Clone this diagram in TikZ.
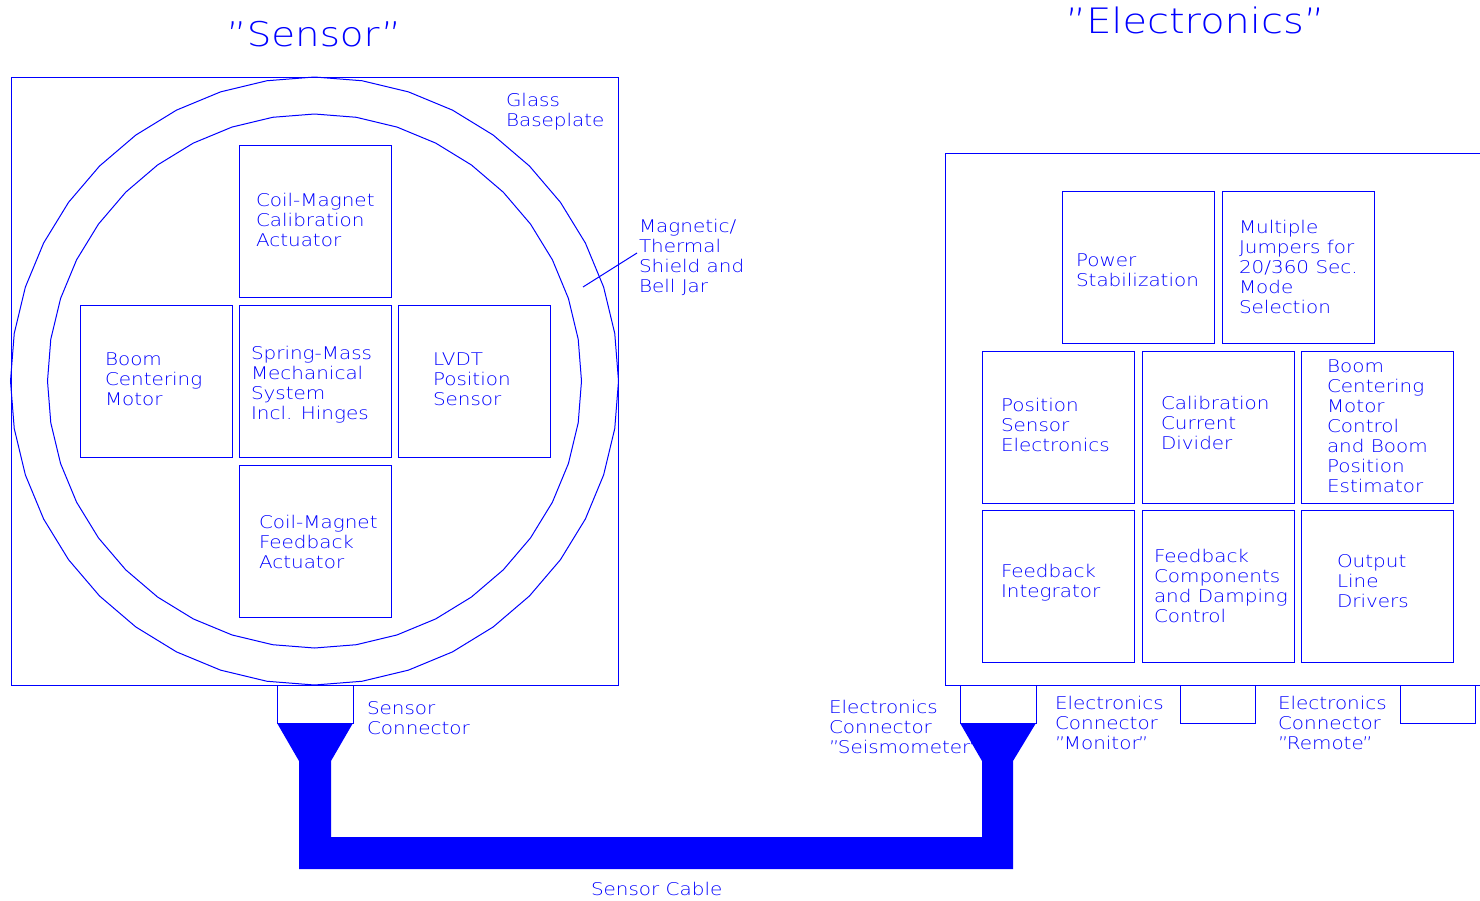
\documentclass[tikz,border=0pt]{standalone}
\usepackage{fontspec}
\IfFontExistsTF{DejaVu Sans ExtraLight}
  {\newfontfamily\cadfont[FakeStretch=1.14]{DejaVu Sans ExtraLight}}
  {\newfontfamily\cadfont[FakeStretch=1.14]{DejaVu Sans}}
\newcommand\cadlbl[4]{\node[lbl] (#1) at (#2,#3-14) {\strut #4};}
\begin{document}
\begin{tikzpicture}[x=1pt,y=-1pt,
  ln/.style={draw=blue, line width=1pt},
  frame/.style={ln, rectangle, inner sep=0pt, outer sep=0pt, anchor=north west},
  blk/.style={frame, minimum width=152pt, minimum height=152pt},
  conn/.style={frame, minimum width=76pt, minimum height=38pt},
  lbl/.style={anchor=north west, inner sep=0pt, outer sep=0pt, align=left, text=blue,
              font=\cadfont\fontsize{17.5}{20}\selectfont},
  title/.style={anchor=base, inner sep=0pt, text=blue}]
\fill[white] (0,0) rectangle (1480,900);
\useasboundingbox (0,0) rectangle (1480,900);

% titles
\node[title, font=\cadfont\fontsize{34}{40}\selectfont] (tsensor) at (314,46) {”Sensor”};
\node[title, font=\cadfont\fontsize{35}{40}\selectfont] (telec) at (1195,33) {”Electronics”};

% sensor frame and rings
\node[frame, minimum width=607pt, minimum height=608pt] (sbox) at (11,77) {};
\draw[ln] plot[samples=41, domain=0:360] ({314.5+304*cos(\x)},{381+304*sin(\x)}) -- cycle;
\draw[ln] plot[samples=41, domain=0:360] ({314.5+267*cos(\x)},{381+267*sin(\x)}) -- cycle;

% sensor blocks
\node[blk] (scal) at (239,145) {};
\node[blk] (sboom) at (80,305) {};
\node[blk] (sspring) at (239,305) {};
\node[blk] (slvdt) at (398,305) {};
\node[blk] (sfb) at (239,465) {};

\cadlbl{tcal}{256}{206}{Coil-Magnet\\Calibration\\Actuator}
\cadlbl{tboom}{105}{365}{Boom\\Centering\\Motor}
\cadlbl{tspring}{251}{359}{Spring-Mass\\Mechanical\\System\\Incl. Hinges}
\cadlbl{tlvdt}{433}{365}{LVDT\\Position\\Sensor}
\cadlbl{tfb}{259}{528}{Coil-Magnet\\Feedback\\Actuator}
\cadlbl{tglass}{506}{106}{Glass\\Baseplate}
\cadlbl{tshield}{639}{232}{Magnetic/\\Thermal\\Shield and\\Bell Jar}
\coordinate (leadA) at (583,287);
\coordinate (leadB) at (637,253);
\draw[ln] (leadA) -- (leadB);

% electronics frame and blocks
\node[frame, minimum width=545pt, minimum height=532pt] (ebox) at (945,153) {};
\node[blk] (epow) at (1062,191) {};
\node[blk] (ejmp) at (1222,191) {};
\node[blk] (epse) at (982,351) {};
\node[blk] (eccd) at (1142,351) {};
\node[blk] (ebcm) at (1301,351) {};
\node[blk] (efi) at (982,510) {};
\node[blk] (efcd) at (1142,510) {};
\node[blk] (eold) at (1301,510) {};

\cadlbl{tpow}{1076}{266}{Power\\Stabilization}
\cadlbl{tjmp}{1239}{233}{Multiple\\Jumpers for\\20/360 Sec.\\Mode\\Selection}
\cadlbl{tpse}{1001}{411}{Position\\Sensor\\Electronics}
\cadlbl{tccd}{1161}{409}{Calibration\\Current\\Divider}
\cadlbl{tbcm}{1327}{372}{Boom\\Centering\\Motor\\Control\\and Boom\\Position\\Estimator}
\cadlbl{tfi}{1001}{577}{Feedback\\Integrator}
\cadlbl{tfcd}{1154}{562}{Feedback\\Components\\and Damping\\Control}
\cadlbl{told}{1337}{567}{Output\\Line\\Drivers}

% connectors
\node[conn] (sc) at (277,685) {};
\node[conn] (ec) at (960,685) {};
\node[conn, minimum width=75pt] (em) at (1180,685) {};
\node[conn, minimum width=75pt] (er) at (1400,685) {};

\cadlbl{tsc}{367}{714}{Sensor\\Connector}
\cadlbl{tec}{829}{713}{Electronics\\Connector\\”\kern-1.5pt Seismometer\kern-1.5pt”}
\cadlbl{tem}{1055}{709}{Electronics\\Connector\\”\kern-1.5pt Monitor\kern-1.5pt”}
\cadlbl{ter}{1278}{709}{Electronics\\Connector\\”\kern-1.5pt Remote\kern-1.5pt”}

% cable
\fill[blue] (sc.south west) -- (sc.south east) -- ++(-22,38) -- ++(0,76) -- ++(651,0)
  -- ++(0,-76) -- (ec.south west) -- (ec.south east) -- ++(-23,38) -- ++(0,108)
  -- ++(-714,0) -- ++(0,-108) -- cycle;
\cadlbl{tcable}{591}{895}{Sensor Cable}
\end{tikzpicture}
\end{document}
